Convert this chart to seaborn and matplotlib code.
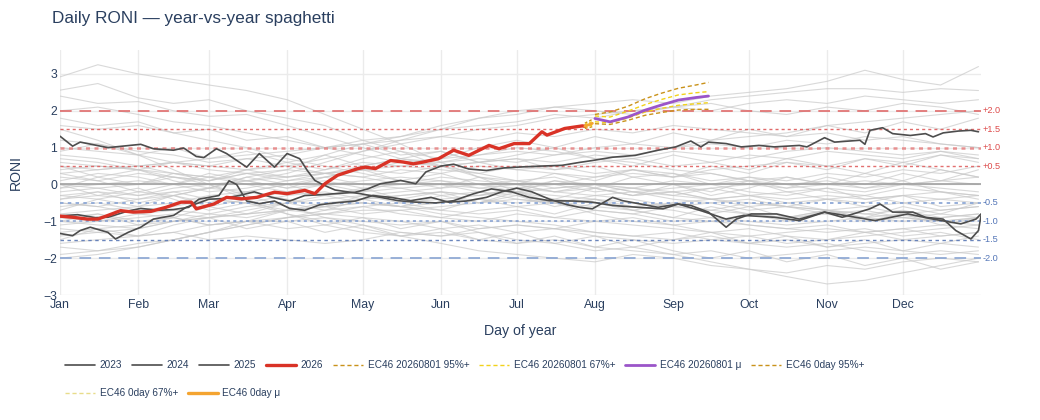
import matplotlib
matplotlib.use("Agg")
import matplotlib.pyplot as plt
from matplotlib.lines import Line2D
import pandas as pd
import seaborn as sns

# ---------------- data ----------------
MONTH_DAYS = [1, 32, 60, 91, 121, 152, 182, 213, 244, 274, 305, 335]
MONTH_LABELS = ["Jan", "Feb", "Mar", "Apr", "May", "Jun", "Jul", "Aug", "Sep", "Oct", "Nov", "Dec"]

# background (historical years), sampled twice a month
BG_DAYS = [1, 16, 32, 46, 60, 75, 91, 106, 121, 136, 152, 167, 182, 197, 213, 228, 244, 259, 274, 289, 305, 320, 335, 350, 365]
HIST_WARM = [
    [2.92, 3.25, 3.0, 2.85, 2.7, 2.55, 2.3, 1.9, 1.5, 1.1, 0.6, 0.2, -0.2, -0.5, -0.8, -1.0, -1.1, -1.3, -1.2, -1.4, -1.5, -1.3, -1.5, -1.6, -1.7],
    [2.56, 2.74, 2.35, 2.2, 2.3, 2.0, 1.8, 1.6, 1.2, 0.9, 0.5, 0.3, 0.1, -0.1, 0.0, -0.2, -0.3, -0.1, -0.3, -0.5, -0.4, -0.6, -0.5, -0.7, -0.6],
    [2.4, 2.2, 2.25, 2.0, 1.85, 1.9, 1.6, 1.3, 1.0, 0.7, 0.5, 0.2, 0.1, 0.2, -0.1, -0.3, -0.2, -0.4, -0.6, -0.5, -0.7, -0.9, -0.8, -1.0, -0.9],
    [2.0, 2.1, 1.9, 1.7, 1.6, 1.4, 1.2, 1.0, 0.8, 0.6, 0.5, 0.6, 0.4, 0.5, 0.3, 0.4, 0.2, 0.3, 0.1, 0.2, 0.0, -0.1, 0.1, -0.2, -0.3],
    [1.6, 1.5, 1.6, 1.4, 1.2, 1.0, 0.7, 0.5, 0.3, 0.1, 0.0, -0.2, -0.3, -0.5, -0.6, -0.7, -0.9, -1.0, -1.1, -1.2, -1.3, -1.2, -1.4, -1.3, -1.5],
    [1.2, 1.1, 0.9, 0.8, 0.6, 0.7, 0.5, 0.3, 0.2, 0.0, 0.1, -0.1, 0.0, -0.2, -0.3, -0.2, -0.4, -0.5, -0.4, -0.6, -0.7, -0.8, -0.7, -0.9, -0.8],
    [1.8, 1.6, 1.7, 1.4, 1.5, 1.2, 1.3, 1.0, 1.1, 0.8, 0.9, 0.6, 0.7, 0.4, 0.5, 0.2, 0.3, 0.0, 0.1, -0.2, -0.1, -0.4, -0.3, -0.6, -0.5],
]
HIST_RISE = [
    [-0.4, -0.3, -0.4, -0.2, -0.1, 0.1, 0.3, 0.6, 0.9, 1.2, 1.5, 1.8, 2.0, 2.1, 2.2, 2.3, 2.2, 2.4, 2.5, 2.6, 2.8, 3.1, 2.85, 2.7, 3.2],
    [-0.1, 0.0, 0.1, 0.0, 0.2, 0.4, 0.5, 0.7, 0.9, 1.1, 1.3, 1.5, 1.6, 1.8, 1.9, 2.0, 2.1, 2.3, 2.4, 2.5, 2.6, 2.6, 2.5, 2.6, 2.55],
    [0.4, 0.5, 0.4, 0.6, 0.5, 0.7, 0.8, 1.0, 1.2, 1.3, 1.5, 1.6, 1.7, 1.9, 1.8, 2.0, 2.1, 2.0, 2.2, 2.3, 2.2, 2.4, 2.3, 2.2, 2.3],
    [-0.8, -0.7, -0.6, -0.5, -0.3, -0.2, 0.0, 0.2, 0.4, 0.6, 0.7, 0.8, 0.9, 0.8, 1.0, 1.1, 1.0, 1.2, 1.3, 1.4, 1.6, 1.7, 1.8, 1.9, 2.0],
    [0.3, 0.4, 0.5, 0.6, 0.7, 0.8, 0.9, 1.0, 1.1, 1.2, 1.3, 1.2, 1.4, 1.3, 1.5, 1.4, 1.6, 1.5, 1.4, 1.3, 1.4, 1.2, 1.3, 1.1, 1.0],
    [-0.3, -0.2, -0.3, -0.1, 0.0, 0.1, 0.2, 0.3, 0.4, 0.5, 0.6, 0.7, 0.6, 0.8, 0.9, 0.8, 1.0, 1.1, 1.0, 1.2, 1.1, 1.3, 1.2, 1.1, 1.0],
    [-0.5, -0.6, -0.4, -0.3, -0.1, 0.2, 0.4, 0.8, 1.1, 1.3, 1.6, 1.8, 1.9, 2.1, 2.0, 1.9, 2.1, 2.2, 2.0, 1.9, 2.1, 2.0, 2.2, 2.1, 1.9],
    [-0.1, 0.2, 0.0, 0.3, 0.1, 0.4, 0.6, 0.4, 0.7, 0.9, 0.7, 1.0, 1.2, 1.0, 1.3, 1.1, 1.4, 1.2, 1.5, 1.3, 1.6, 1.4, 1.7, 1.5, 1.8],
]
HIST_COOL = [
    [0.7, 0.6, 0.4, 0.2, 0.0, -0.3, -0.6, -0.9, -1.1, -1.3, -1.4, -1.3, -1.5, -1.6, -1.8, -1.7, -1.9, -2.1, -2.3, -2.5, -2.7, -2.6, -2.4, -2.2, -2.0],
    [-1.6, -1.5, -1.4, -1.3, -1.1, -1.0, -1.0, -0.9, -1.0, -1.1, -1.0, -1.2, -1.1, -1.2, -1.3, -1.4, -1.3, -1.5, -1.6, -1.7, -1.6, -1.8, -1.9, -1.8, -1.9],
    [-1.9, -1.8, -1.7, -1.5, -1.3, -1.1, -0.9, -0.8, -0.7, -0.7, -0.6, -0.5, -0.4, -0.5, -0.4, -0.5, -0.6, -0.7, -0.8, -0.9, -0.8, -1.0, -0.9, -0.8, -0.9],
    [-1.4, -1.3, -1.2, -1.0, -0.9, -0.7, -0.5, -0.3, -0.2, -0.1, 0.0, -0.1, -0.2, -0.3, -0.4, -0.6, -0.7, -0.9, -1.0, -1.1, -1.0, -0.9, -1.0, -0.9, -0.8],
    [-1.7, -1.8, -1.6, -1.5, -1.3, -1.1, -0.9, -0.8, -0.6, -0.5, -0.4, -0.3, -0.1, -0.2, 0.0, -0.1, -0.3, -0.4, -0.5, -0.6, -0.7, -0.8, -0.9, -1.0, -1.1],
    [-1.1, -1.0, -0.9, -0.8, -0.9, -0.8, -0.7, -0.6, -0.5, -0.6, -0.5, -0.4, -0.5, -0.4, -0.5, -0.6, -0.5, -0.4, -0.3, -0.4, -0.3, -0.4, -0.3, -0.2, -0.3],
    [-2.0, -1.9, -1.7, -1.5, -1.3, -1.0, -0.7, -0.5, -0.4, -0.3, -0.2, -0.3, -0.2, -0.1, 0.0, -0.1, -0.2, -0.1, 0.0, -0.1, 0.0, 0.1, 0.0, 0.1, 0.0],
    [0.5, 0.4, 0.5, 0.3, 0.2, 0.0, -0.2, -0.3, -0.5, -0.6, -0.8, -0.9, -1.0, -1.1, -1.3, -1.4, -1.5, -1.4, -1.6, -1.5, -1.7, -1.6, -1.5, -1.4, -1.3],
    [-1.3, -1.2, -1.1, -1.0, -0.9, -0.8, -0.7, -0.6, -0.5, -0.6, -0.7, -0.8, -0.7, -0.9, -1.0, -1.1, -1.2, -1.3, -1.4, -1.3, -1.2, -1.3, -1.2, -1.1, -1.2],
    [-1.2, -1.3, -1.4, -1.3, -1.5, -1.4, -1.5, -1.6, -1.5, -1.3, -1.4, -1.2, -1.1, -1.2, -1.4, -1.5, -1.6, -1.5, -1.4, -1.6, -1.5, -1.4, -1.3, -1.2, -1.1],
    [1.5, 1.2, 0.8, 0.4, 0.0, -0.4, -0.8, -1.0, -1.2, -1.4, -1.6, -1.8, -1.9, -2.0, -2.1, -1.9, -2.0, -2.2, -2.3, -2.4, -2.2, -2.3, -2.1, -2.0, -2.1],
    [-0.9, -0.8, -1.0, -0.9, -1.1, -1.0, -1.2, -1.1, -1.3, -1.4, -1.3, -1.5, -1.6, -1.5, -1.7, -1.8, -1.9, -1.8, -2.0, -1.9, -1.8, -1.7, -1.8, -1.9, -1.8],
    [-1.5, -1.2, -1.4, -1.1, -0.9, -1.2, -1.0, -1.3, -1.1, -1.4, -1.2, -1.5, -1.3, -1.6, -1.4, -1.7, -1.5, -1.3, -1.6, -1.4, -1.7, -1.5, -1.8, -1.6, -1.4],
    [0.0, -0.3, -0.1, -0.4, -0.7, -0.5, -0.8, -1.1, -0.9, -1.2, -1.0, -1.3, -1.6, -1.4, -1.7, -1.5, -1.8, -2.0, -1.8, -2.1, -1.9, -2.2, -2.0, -2.3, -2.1],
    [0.5, 0.2, 0.4, 0.1, -0.1, 0.2, 0.0, -0.3, -0.1, -0.4, -0.2, -0.5, -0.3, -0.6, -0.4, -0.7, -0.5, -0.8, -0.6, -0.9, -0.7, -1.0, -0.8, -1.1, -0.9],
]
HIST_NEUTRAL = [
    [-0.3, -0.4, -0.2, -0.3, -0.1, -0.2, 0.0, 0.1, -0.1, 0.0, 0.2, 0.1, 0.0, -0.2, -0.1, -0.3, -0.2, -0.4, -0.3, -0.2, -0.4, -0.3, -0.5, -0.4, -0.3],
    [0.2, 0.1, 0.3, 0.2, 0.1, 0.3, 0.4, 0.3, 0.2, 0.4, 0.3, 0.5, 0.4, 0.3, 0.2, 0.4, 0.3, 0.1, 0.2, 0.0, 0.1, -0.1, 0.0, 0.1, 0.2],
    [-0.6, -0.5, -0.7, -0.6, -0.4, -0.5, -0.3, -0.2, -0.4, -0.3, -0.2, -0.3, -0.1, 0.0, -0.2, -0.1, 0.1, 0.0, 0.2, 0.1, 0.3, 0.2, 0.4, 0.3, 0.5],
    [0.8, 0.7, 0.5, 0.6, 0.4, 0.3, 0.1, 0.2, 0.0, -0.1, -0.3, -0.2, -0.4, -0.5, -0.3, -0.4, -0.6, -0.5, -0.7, -0.6, -0.8, -0.7, -0.9, -1.0, -0.9],
    [-0.2, -0.1, 0.0, 0.2, 0.1, 0.3, 0.2, 0.4, 0.6, 0.5, 0.4, 0.3, 0.5, 0.4, 0.6, 0.7, 0.5, 0.6, 0.8, 0.7, 0.9, 0.8, 0.7, 0.9, 0.8],
    [0.6, 0.5, 0.4, 0.3, 0.2, 0.1, -0.1, 0.0, 0.1, 0.2, 0.1, 0.0, -0.1, 0.1, 0.0, -0.2, -0.1, 0.0, -0.2, -0.3, -0.1, -0.2, 0.0, -0.1, -0.2],
    [-0.9, -1.0, -0.8, -0.7, -0.8, -0.6, -0.5, -0.4, -0.3, -0.2, -0.1, 0.0, 0.1, 0.0, 0.2, 0.3, 0.2, 0.4, 0.5, 0.6, 0.5, 0.7, 0.6, 0.8, 0.7],
    [0.0, -0.1, -0.3, -0.2, -0.4, -0.5, -0.7, -0.6, -0.8, -0.7, -0.9, -1.0, -0.8, -0.9, -0.7, -0.8, -0.6, -0.7, -0.5, -0.6, -0.4, -0.5, -0.3, -0.4, -0.5],
    [1.0, 0.9, 0.8, 0.6, 0.5, 0.4, 0.2, 0.3, 0.4, 0.3, 0.5, 0.6, 0.7, 0.6, 0.8, 0.7, 0.9, 0.8, 0.7, 0.9, 1.0, 0.9, 0.8, 0.9, 0.7],
    [-0.5, -0.6, -0.8, -0.9, -1.1, -1.0, -0.9, -0.7, -0.6, -0.8, -0.9, -0.7, -0.6, -0.5, -0.7, -0.8, -1.0, -0.9, -1.1, -1.2, -1.1, -1.3, -1.2, -1.4, -1.3],
    [0.1, 0.3, 0.2, 0.0, -0.2, -0.1, 0.1, 0.3, 0.5, 0.7, 0.6, 0.8, 1.0, 0.9, 0.7, 0.6, 0.4, 0.3, 0.1, 0.0, -0.2, -0.3, -0.1, -0.2, -0.4],
    [-1.0, -1.1, -1.2, -1.0, -0.8, -0.9, -0.7, -0.8, -0.9, -1.0, -1.2, -1.1, -1.3, -1.2, -1.0, -0.9, -1.1, -1.0, -0.8, -0.9, -0.7, -0.6, -0.8, -0.7, -0.6],
    [0.3, 0.1, -0.2, 0.0, 0.3, 0.1, -0.1, 0.2, 0.4, 0.1, 0.3, 0.0, -0.2, 0.1, -0.1, 0.2, 0.0, -0.3, -0.1, 0.2, 0.0, 0.3, 0.1, 0.4, 0.2],
    [-0.7, -0.4, -0.6, -0.3, -0.5, -0.2, -0.4, -0.6, -0.3, -0.5, -0.7, -0.4, -0.6, -0.8, -0.5, -0.7, -0.9, -0.6, -0.8, -1.0, -0.7, -0.9, -0.6, -0.8, -0.5],
    [0.9, 1.1, 0.8, 1.0, 0.7, 0.9, 0.6, 0.8, 0.5, 0.7, 0.9, 0.6, 0.8, 1.0, 0.7, 0.5, 0.8, 0.6, 0.4, 0.7, 0.5, 0.3, 0.6, 0.4, 0.2],
    [-1.0, -0.8, -1.1, -0.9, -0.6, -0.8, -0.5, -0.7, -0.4, -0.6, -0.3, -0.5, -0.2, -0.4, -0.1, -0.3, 0.0, -0.2, 0.1, -0.1, 0.2, 0.0, 0.3, 0.1, 0.4],
    [-0.4, -0.2, -0.5, -0.3, -0.6, -0.4, -0.2, 0.0, -0.2, 0.1, -0.1, 0.2, 0.0, 0.3, 0.1, 0.4, 0.2, 0.5, 0.3, 0.6, 0.4, 0.7, 0.5, 0.8, 0.6],
]

# highlighted years
Y2023_DAYS = [1, 6, 9, 13, 20, 23, 28, 33, 38, 46, 51, 56, 60, 66, 72, 78, 85, 92, 98, 104, 110, 118, 123, 128, 136, 142, 146, 152, 157, 163, 170, 177, 185, 192, 200, 207, 212, 220, 229, 238, 245, 251, 255, 258, 265, 271, 278, 284, 294, 297, 304, 308, 318, 320, 322, 327, 331, 338, 344, 347, 351, 357, 362, 365]
Y2023_VALS = [-1.33, -1.39, -1.25, -1.16, -1.3, -1.48, -1.3, -1.16, -0.94, -0.84, -0.62, -0.5, -0.4, -0.38, -0.3, -0.2, -0.35, -0.45, -0.3, -0.28, -0.25, -0.21, -0.12, 0.02, 0.11, 0.02, 0.34, 0.5, 0.55, 0.42, 0.38, 0.45, 0.48, 0.5, 0.52, 0.6, 0.65, 0.74, 0.79, 0.93, 1.02, 1.18, 1.02, 1.15, 1.11, 1.02, 1.06, 1.02, 1.06, 1.02, 1.27, 1.15, 1.2, 1.09, 1.47, 1.54, 1.38, 1.33, 1.38, 1.29, 1.4, 1.45, 1.47, 1.43]

Y2024_DAYS = [1, 6, 9, 20, 33, 38, 46, 50, 55, 58, 63, 67, 75, 80, 86, 91, 96, 99, 102, 105, 110, 115, 120, 128, 135, 142, 150, 157, 165, 172, 180, 187, 195, 205, 212, 220, 230, 240, 246, 255, 265, 272, 284, 294, 304, 312, 324, 337, 347, 358, 364, 366]
Y2024_VALS = [1.31, 1.04, 1.15, 1.0, 1.09, 0.97, 0.93, 0.99, 0.76, 0.73, 0.97, 0.84, 0.47, 0.84, 0.47, 0.84, 0.7, 0.38, 0.11, 0.0, -0.15, -0.2, -0.25, -0.35, -0.44, -0.48, -0.5, -0.44, -0.25, -0.12, -0.2, -0.35, -0.44, -0.45, -0.48, -0.57, -0.62, -0.66, -0.53, -0.71, -0.94, -0.84, -0.89, -0.98, -0.75, -0.84, -0.98, -0.8, -0.94, -1.07, -0.94, -0.8]

Y2025_DAYS = [1, 8, 15, 20, 28, 33, 40, 46, 52, 56, 60, 64, 68, 71, 75, 80, 86, 92, 98, 104, 110, 118, 125, 132, 140, 148, 155, 162, 170, 176, 182, 188, 195, 202, 207, 212, 220, 224, 238, 246, 251, 258, 265, 269, 275, 285, 294, 304, 311, 322, 326, 331, 339, 344, 351, 356, 362, 365, 366]
Y2025_VALS = [-0.85, -0.82, -0.9, -0.89, -0.72, -0.65, -0.7, -0.68, -0.62, -0.4, -0.35, -0.3, 0.1, 0.0, -0.45, -0.52, -0.45, -0.65, -0.7, -0.55, -0.5, -0.45, -0.3, -0.35, -0.44, -0.35, -0.48, -0.45, -0.35, -0.2, -0.1, -0.2, -0.4, -0.55, -0.62, -0.66, -0.35, -0.44, -0.62, -0.53, -0.57, -0.75, -1.16, -0.94, -0.8, -0.8, -0.94, -0.75, -0.89, -0.66, -0.53, -0.75, -0.75, -0.89, -0.94, -1.25, -1.48, -1.25, -0.85]

Y2026_DAYS = [1, 6, 12, 16, 20, 25, 30, 37, 43, 49, 53, 55, 62, 67, 73, 79, 86, 91, 98, 102, 106, 111, 119, 122, 126, 132, 137, 141, 145, 151, 157, 163, 171, 175, 181, 187, 192, 194, 201, 208, 209]
Y2026_VALS = [-0.86, -0.89, -0.94, -0.94, -0.84, -0.71, -0.75, -0.73, -0.62, -0.48, -0.48, -0.66, -0.53, -0.35, -0.39, -0.35, -0.21, -0.25, -0.16, -0.25, 0.02, 0.25, 0.43, 0.47, 0.43, 0.65, 0.61, 0.56, 0.61, 0.7, 0.93, 0.79, 1.06, 0.97, 1.11, 1.11, 1.43, 1.34, 1.52, 1.59, 1.58]

# EC46 forecast initialised 2026-08-01
EC_DAYS = [213, 219, 226, 233, 239, 246, 253, 258]
EC_MEAN = [1.79, 1.70, 1.83, 2.02, 2.15, 2.29, 2.36, 2.40]
EC_95_HI = [1.90, 1.97, 2.12, 2.33, 2.47, 2.61, 2.70, 2.77]
EC_95_LO = [1.65, 1.63, 1.74, 1.88, 1.95, 2.02, 2.04, 2.04]
EC_67_HI = [1.86, 1.83, 1.99, 2.17, 2.30, 2.43, 2.49, 2.52]
EC_67_LO = [1.70, 1.68, 1.80, 1.97, 2.06, 2.15, 2.19, 2.22]

# EC46 0-day
Z_DAYS = [209, 210, 211, 212]
Z_MEAN = [1.58, 1.61, 1.63, 1.66]
Z_95_HI = [1.66, 1.70, 1.73, 1.77]
Z_95_LO = [1.52, 1.54, 1.55, 1.57]
Z_67_HI = [1.62, 1.66, 1.68, 1.71]
Z_67_LO = [1.55, 1.57, 1.59, 1.61]

THRESH_VALS = [2.0, 1.5, 1.0, 0.5, -0.5, -1.0, -1.5, -2.0]
THRESH_LABELS = ["+2.0", "+1.5", "+1.0", "+0.5", "-0.5", "-1.0", "-1.5", "-2.0"]

# ---------------- style ----------------
sns.set_theme(style="white")
plt.rcParams["font.family"] = ["Liberation Sans", "DejaVu Sans"]
TXT = "#2a3f5f"
RED_T = "#dd4b4b"
BLUE_T = "#5577b8"
C_YEAR = "#4d4d4d"
C_2026 = "#d93226"
C_95 = "#c9921a"
C_67 = "#f2d21b"
C_MU = "#9b55c9"
C_0MU = "#f4a430"

fig = plt.figure(figsize=(10.4, 4.2), dpi=100)
ax = fig.add_axes([60 / 1040, 125 / 420, 921 / 1040, 245 / 420])

# background years
rows = []
for grp_name, grp in [("w", HIST_WARM), ("r", HIST_RISE), ("c", HIST_COOL), ("n", HIST_NEUTRAL)]:
    for i, vals in enumerate(grp):
        for d, v in zip(BG_DAYS, vals):
            rows.append({"unit": f"{grp_name}{i}", "day": d, "val": v})
bg = pd.DataFrame(rows)
sns.lineplot(data=bg, x="day", y="val", units="unit", estimator=None, color="#c9c9c9",
             lw=0.8, alpha=0.7, ax=ax, legend=False, zorder=1)

# reference lines
styles = {
    2.0: dict(color="#e06a6a", ls=(0, (6, 4)), lw=1.4, alpha=0.85),
    1.5: dict(color="#dd5a5a", ls=(0, (2.2, 2.2)), lw=1.0, alpha=0.9),
    1.0: dict(color="#e57a7a", ls=(0, (1.6, 1.8)), lw=1.8, alpha=0.8),
    0.5: dict(color="#e06060", ls=(0, (2.2, 2.2)), lw=1.0, alpha=0.9),
    -0.5: dict(color="#8aa6d6", ls=(0, (1.8, 2.2)), lw=1.4, alpha=0.9),
    -1.0: dict(color="#7594cc", ls=(0, (2, 2.2)), lw=1.1, alpha=0.9),
    -1.5: dict(color="#5a78b5", ls=(0, (2.5, 2.5)), lw=1.0, alpha=0.9),
    -2.0: dict(color="#8ea8d4", ls=(0, (6, 4)), lw=1.4, alpha=0.9),
}
ax.axhline(0, color="#a0a0a0", lw=1.2, zorder=2)
for v, lab in zip(THRESH_VALS, THRESH_LABELS):
    ax.axhline(v, zorder=2, **styles[v])
    ax.text(1.002, v, lab, transform=ax.get_yaxis_transform(), fontsize=6.6,
            color=RED_T if v > 0 else BLUE_T, va="center", ha="left")

# highlighted years
for days, vals in [(Y2023_DAYS, Y2023_VALS), (Y2024_DAYS, Y2024_VALS), (Y2025_DAYS, Y2025_VALS)]:
    sns.lineplot(x=days, y=vals, color=C_YEAR, lw=1.2, ax=ax, sort=False, estimator=None, zorder=4)
sns.lineplot(x=Y2026_DAYS, y=Y2026_VALS, color=C_2026, lw=2.4, ax=ax, sort=False, estimator=None, zorder=6)

# EC46 20260801
for vals in (EC_95_HI, EC_95_LO):
    sns.lineplot(x=EC_DAYS, y=vals, color=C_95, lw=1.0, linestyle=(0, (3, 2)), ax=ax, estimator=None, zorder=5)
for vals in (EC_67_HI, EC_67_LO):
    sns.lineplot(x=EC_DAYS, y=vals, color=C_67, lw=1.0, linestyle=(0, (3, 2)), ax=ax, estimator=None, zorder=5)
sns.lineplot(x=EC_DAYS, y=EC_MEAN, color=C_MU, lw=2.0, ax=ax, estimator=None, zorder=6)

# EC46 0day
for vals in (Z_95_HI, Z_95_LO):
    sns.lineplot(x=Z_DAYS, y=vals, color=C_95, lw=1.0, linestyle=(0, (2, 1.5)), ax=ax, estimator=None, zorder=5)
for vals in (Z_67_HI, Z_67_LO):
    sns.lineplot(x=Z_DAYS, y=vals, color=C_67, lw=1.0, linestyle=(0, (2, 1.5)), ax=ax, estimator=None, zorder=5)
sns.lineplot(x=Z_DAYS, y=Z_MEAN, color=C_0MU, lw=2.0, ax=ax, estimator=None, zorder=6)

# axes
ax.set_xlim(1, 366)
ax.set_ylim(-3.0, 3.65)
ax.set_xticks(MONTH_DAYS)
ax.set_xticklabels(MONTH_LABELS)
ax.set_yticks([-3, -2, -1, 0, 1, 2, 3])
ax.grid(True, color="#ebebeb", lw=1.0, zorder=0)
ax.set_axisbelow(True)
for s in ax.spines.values():
    s.set_visible(False)
ax.tick_params(axis="both", length=0, labelsize=8.8, colors=TXT)
ax.tick_params(axis="x", pad=3)
ax.tick_params(axis="y", pad=2)
ax.set_xlabel("")
ax.set_ylabel("")

fig.text(52 / 1040, 1 - 19 / 420, "Daily RONI \u2014 year-vs-year spaghetti", fontsize=12.3,
         color=TXT, ha="left", va="center")
fig.text(520 / 1040, 1 - 331 / 420, "Day of year", fontsize=10.2, color=TXT, ha="center", va="center")
fig.text(16 / 1040, 1 - 172 / 420, "RONI", fontsize=10.2, color=TXT, ha="center", va="center", rotation=90)

# legend
def h(color, lw, ls="-"):
    return Line2D([0], [0], color=color, lw=lw, linestyle=ls)

row1 = [
    (h(C_YEAR, 1.2), "2023"), (h(C_YEAR, 1.2), "2024"), (h(C_YEAR, 1.2), "2025"),
    (h(C_2026, 2.4), "2026"),
    (h(C_95, 1.0, (0, (3, 2))), "EC46 20260801 95%+"),
    (h(C_67, 1.0, (0, (3, 2))), "EC46 20260801 67%+"),
    (h(C_MU, 2.0), "EC46 20260801 \u03bc"),
    (h(C_95, 1.0, (0, (3, 2))), "EC46 0day 95%+"),
]
row2 = [
    (h("#e8dc8a", 1.0, (0, (3, 2))), "EC46 0day 67%+"),
    (h(C_0MU, 2.4), "EC46 0day \u03bc"),
]
for items, y in [(row1, 1 - 365 / 420), (row2, 1 - 393 / 420)]:
    leg = fig.legend([a for a, _ in items], [b for _, b in items], loc="center left",
                     bbox_to_anchor=(65 / 1040, y), ncol=len(items), frameon=False,
                     fontsize=7.2, handlelength=3.0, handletextpad=0.45, columnspacing=1.0,
                     borderaxespad=0, borderpad=0)
    for t in leg.get_texts():
        t.set_color(TXT)

fig.savefig("out.png", dpi=100)
